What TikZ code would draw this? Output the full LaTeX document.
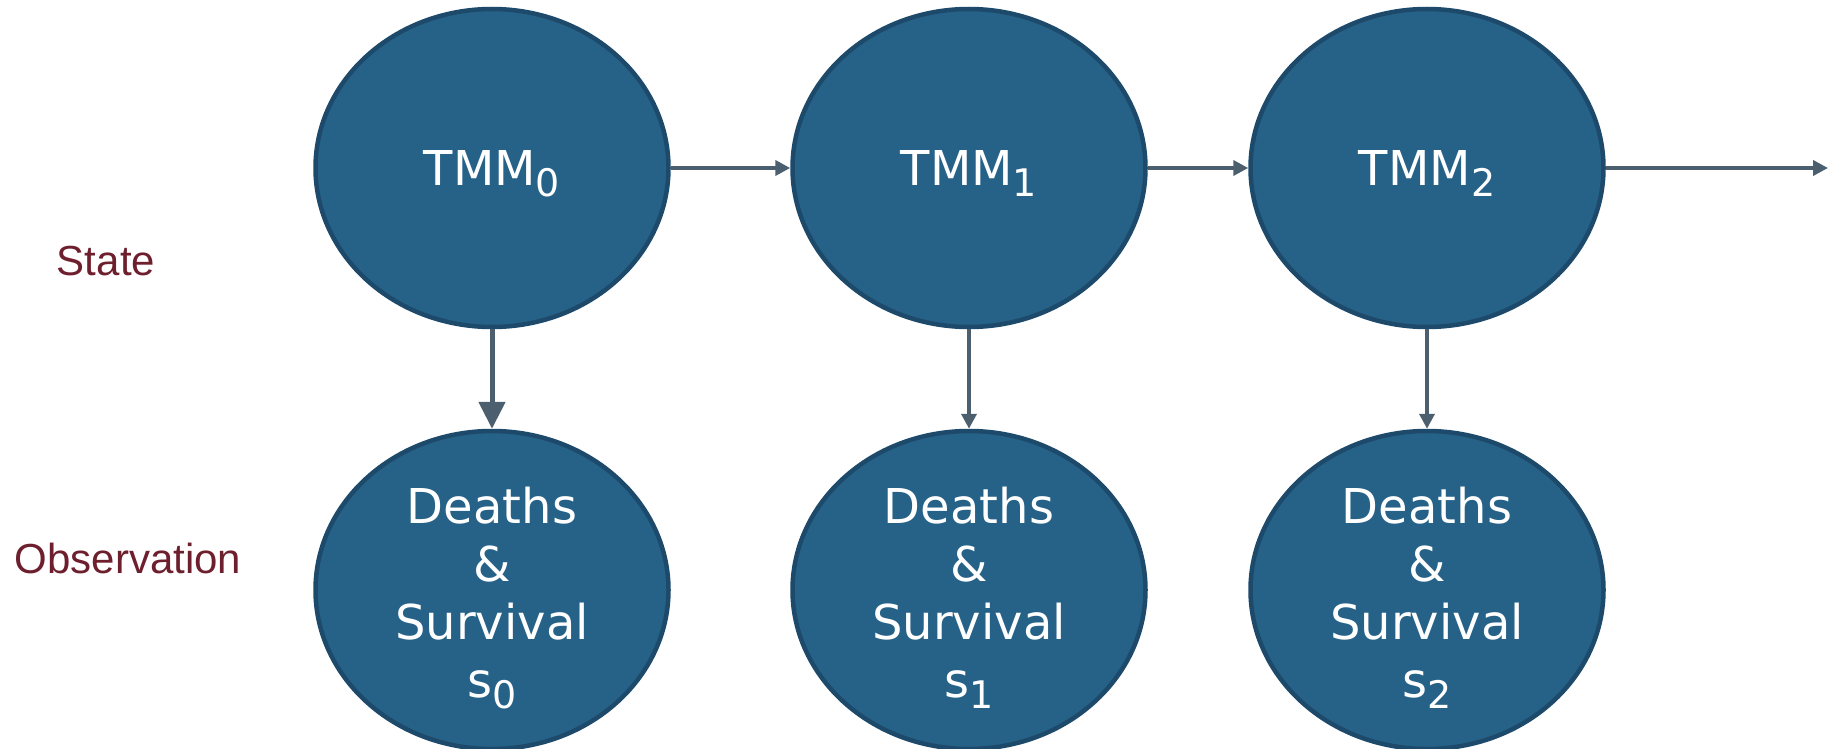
\documentclass[tikz,border=0pt]{standalone}
\usepackage{fontspec}
\setmainfont{DejaVu Sans}
\newfontfamily\labelfont{Liberation Sans}
\usetikzlibrary{shapes.geometric,arrows.meta}
\definecolor{nodefill}{HTML}{266288}
\definecolor{nodeborder}{HTML}{1D4A6B}
\definecolor{arrowcol}{HTML}{4B5F6E}
\definecolor{labelcol}{HTML}{6E1F2D}
\newcommand{\sbs}[1]{\raisebox{-11pt}{\fontsize{38}{38}\selectfont #1}}
\tikzset{
  hmm/.style={ellipse, draw=nodeborder, line width=4.5pt, fill=nodefill,
    minimum width=353pt, minimum height=318pt, inner sep=0pt},
  nodetext/.style={text=white, inner sep=0pt,
    font=\fontsize{48}{58}\selectfont, align=center},
  conn/.style={draw=arrowcol, line width=4.5pt, -{Triangle[length=15pt,width=15pt]}},
  bigconn/.style={draw=arrowcol, line width=5pt, -{Triangle[length=27pt,width=26pt]}},
  sidelabel/.style={text=labelcol, font=\labelfont\fontsize{42}{50}\selectfont, inner sep=0pt}
}
\begin{document}
\begin{tikzpicture}[x=1pt,y=-1pt]
\useasboundingbox (0,0) rectangle (1829,749);
\node[hmm] (t0) at (492,168) {};
\node[hmm] (t1) at (969,168) {};
\node[hmm] (t2) at (1427,168) {};
\node[hmm] (b0) at (492,590) {};
\node[hmm] (b1) at (969,590) {};
\node[hmm] (b2) at (1427,590) {};
\node[nodetext] (t0txt) at ([yshift=-6pt]t0) {TMM\sbs{0}};
\node[nodetext] (t1txt) at ([yshift=-6pt]t1) {TMM\sbs{1}};
\node[nodetext] (t2txt) at ([yshift=-6pt]t2) {TMM\sbs{2}};
\node[nodetext] (b0txt) at ([yshift=-8pt]b0) {Deaths\\\&\\Survival\\s\sbs{0}};
\node[nodetext] (b1txt) at ([yshift=-8pt]b1) {Deaths\\\&\\Survival\\s\sbs{1}};
\node[nodetext] (b2txt) at ([yshift=-8pt]b2) {Deaths\\\&\\Survival\\s\sbs{2}};
\coordinate (end) at (1828,168);
\draw[conn] (t0.east) -- (t1.west);
\draw[conn] (t1.east) -- (t2.west);
\draw[conn] (t2.east) -- (end);
\draw[bigconn] (t0.south) -- (b0.north);
\draw[conn] (t1.south) -- (b1.north);
\draw[conn] (t2.south) -- (b2.north);
\node[sidelabel, anchor=base] (state) at (106,275) {State};
\node[sidelabel, anchor=base] (obs) at (128,573) {Observation};
\end{tikzpicture}
\end{document}
